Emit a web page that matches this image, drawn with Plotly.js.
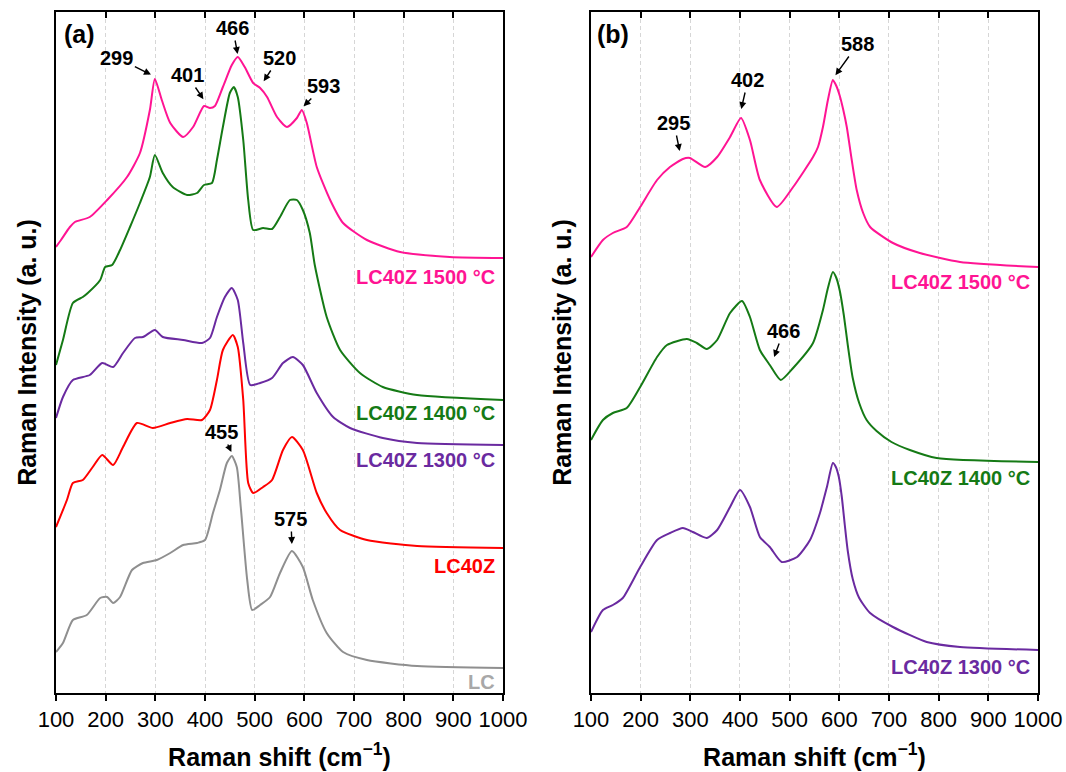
<!DOCTYPE html>
<html>
<head>
<meta charset="utf-8">
<script src="https://cdn.plot.ly/plotly-3.0.1.min.js"></script>
<style>html,body{margin:0;padding:0;background:#fff;}#chart{width:1066px;height:772px;}</style>
</head>
<body>
<div id="chart"></div>
<script>
// ---- Panel (a) spectra (Raman shift cm-1, intensity a.u. with vertical offsets) ----
const a1500_x = [100,110,128,138,168,203,243,269,289,299,313,330,356,376,398,410,420,436,454,466,480,497,511,525,545,565,585,595,605,625,652,678,726,793,893,1000];
const a1500_y = [446,453,466,471,476,493,516,540,583,614,593,570,556,566,587,585,587,606,628,636,626,610,605,596,576,566,575,583,570,526,493,470,453,441,436,435];

const a1400_x = [100,114,134,154,164,189,199,213,229,249,269,289,299,315,335,364,384,398,414,424,436,450,458,466,477,487,497,517,535,551,571,585,597,611,621,645,672,712,758,827,1000];
const a1400_y = [328,353,390,396,400,413,426,428,443,466,490,516,538,520,506,498,500,508,510,533,566,600,606,596,553,493,463,465,464,476,493,493,483,460,428,376,343,320,306,298,293];

const a1300_x = [100,114,134,168,193,215,235,259,275,299,315,356,394,410,424,440,454,466,477,491,511,535,557,577,597,625,658,692,758,827,1000];
const a1300_y = [275,296,313,318,330,326,340,355,356,363,356,353,350,355,376,396,405,393,350,308,310,315,330,336,328,300,276,265,255,250,248];

const aLC40Z_x = [100,122,134,154,174,193,215,235,263,295,330,364,394,410,424,436,456,466,477,487,497,517,535,557,575,597,625,645,672,726,827,1000];
const aLC40Z_y = [166,193,210,213,226,238,228,246,270,265,270,274,273,283,313,343,358,346,293,210,200,206,213,243,256,243,200,180,163,153,147,145];

const aLC_x = [100,114,134,162,189,203,215,229,253,275,303,330,356,384,400,416,430,444,454,464,472,485,495,511,531,551,575,597,617,645,678,726,827,1000];
const aLC_y = [41,50,73,78,95,96,90,96,123,130,133,140,148,150,153,180,203,230,237,226,186,113,83,88,96,120,142,126,93,60,41,33,27,25];

// ---- Panel (b) spectra ----
const b1500_x = [100,124,144,172,199,233,259,285,299,330,354,380,402,420,440,474,507,547,557,567,577,587,594,601,608,615,625,635,648,662,708,762,843,1000];
const b1500_y = [436,453,460,466,486,513,526,534,535,526,536,556,575,553,513,486,506,536,546,566,593,613,607,597,583,566,533,503,480,466,450,440,431,426];

const b1400_x = [100,124,144,172,199,233,253,293,313,333,354,380,404,420,440,460,482,507,547,567,577,587,594,601,609,617,627,640,655,675,705,742,796,1000];
const b1400_y = [253,273,280,285,306,336,348,354,350,344,353,380,392,376,343,328,313,325,350,383,405,421,415,402,378,348,315,290,273,262,251,243,235,231];

const b1300_x = [100,124,144,164,199,233,259,285,305,333,354,380,400,420,440,460,484,515,541,561,575,587,593,599,605,611,617,627,640,662,708,776,843,1000];
const b1300_y = [61,83,88,95,126,153,160,165,161,155,163,186,203,186,156,146,131,136,153,180,206,230,226,216,196,168,142,114,95,80,66,51,46,43];

// ---- Peak labels (text, arrow-head position) ----
const peakA_text = ["299","401","466","520","593","455","575"];
const peakA_x    = [293,398,466,517,597,454,575];
const peakA_y    = [618,593,638,611,586,240,148];
const peakA_ax   = [-35,-17,-5,16,21,-10,-1];
const peakA_ay   = [-17,-25,-27,-24,-21,-21,-26];

const peakB_text = ["295","402","588","466"];
const peakB_x    = [279,402,591,468];
const peakB_y    = [541,583,617,335];
const peakB_ax   = [-6,7,23,10];
const peakB_ay   = [-29,-30,-32,-27];

// ---- Curve labels ----
const labA_text = ["LC40Z 1500 °C","LC40Z 1400 °C","LC40Z 1300 °C","LC40Z","LC"];
const labA_y    = [416,280,233,127,11];
const labA_col  = ["#ff1493","#157a15","#6a2aa0","#ff0000","#a8a8a8"];
const labB_text = ["LC40Z 1500 °C","LC40Z 1400 °C","LC40Z 1300 °C"];
const labB_y    = [411,215,26];
const labB_col  = ["#ff1493","#157a15","#6a2aa0"];

const FONT = "Liberation Sans, Arial, Helvetica, sans-serif";
const LW = 2;

function tr(x, y, color, xa, ya, name){
  return {x:x, y:y, type:'scatter', mode:'lines', name:name,
          line:{color:color, width:LW, shape:'spline', smoothing:0.6},
          xaxis:xa, yaxis:ya, hoverinfo:'skip', showlegend:false};
}

const data = [
  tr(aLC_x, aLC_y, "#8f8f8f", 'x', 'y', 'LC'),
  tr(aLC40Z_x, aLC40Z_y, "#ff0000", 'x', 'y', 'LC40Z'),
  tr(a1300_x, a1300_y, "#6a2aa0", 'x', 'y', 'LC40Z 1300 °C'),
  tr(a1400_x, a1400_y, "#157a15", 'x', 'y', 'LC40Z 1400 °C'),
  tr(a1500_x, a1500_y, "#ff1493", 'x', 'y', 'LC40Z 1500 °C'),
  tr(b1300_x, b1300_y, "#6a2aa0", 'x2', 'y2', 'LC40Z 1300 °C'),
  tr(b1400_x, b1400_y, "#157a15", 'x2', 'y2', 'LC40Z 1400 °C'),
  tr(b1500_x, b1500_y, "#ff1493", 'x2', 'y2', 'LC40Z 1500 °C'),
  // helper traces so the top (inward) tick axes are drawn
  {x:[100,1000], y:[0,0], type:'scatter', mode:'lines', line:{width:0}, opacity:0, xaxis:'x3', yaxis:'y', hoverinfo:'skip', showlegend:false},
  {x:[100,1000], y:[0,0], type:'scatter', mode:'lines', line:{width:0}, opacity:0, xaxis:'x4', yaxis:'y2', hoverinfo:'skip', showlegend:false}
];

const ann = [];
function peak(texts, xs, ys, axs, ays, xr, yr){
  for(let i=0;i<texts.length;i++){
    ann.push({text:'<b>'+texts[i]+'</b>', x:xs[i], y:ys[i], xref:xr, yref:yr,
      ax:axs[i], ay:ays[i], showarrow:true, arrowhead:2, arrowsize:1, arrowwidth:1.4,
      arrowcolor:'#000', standoff:1, startstandoff:0,
      font:{family:FONT, size:20, color:'#000'}});
  }
}
peak(peakA_text, peakA_x, peakA_y, peakA_ax, peakA_ay, 'x', 'y');
peak(peakB_text, peakB_x, peakB_y, peakB_ax, peakB_ay, 'x2', 'y2');
function labs(texts, ys, cols, xr, yr){
  for(let i=0;i<texts.length;i++){
    ann.push({text:'<b>'+texts[i]+'</b>', x:988, y:ys[i], xref:xr, yref:yr,
      xanchor:'right', yanchor:'middle', showarrow:false,
      font:{family:FONT, size:20, color:cols[i]}});
  }
}
labs(labA_text, labA_y, labA_col, 'x', 'y');
labs(labB_text, labB_y, labB_col, 'x2', 'y2');
ann.push({text:'<b>(a)</b>', xref:'x domain', yref:'y domain', x:0.013, y:0.968, xanchor:'left', yanchor:'middle', showarrow:false, font:{family:FONT, size:25, color:'#000'}});
ann.push({text:'<b>(b)</b>', xref:'x2 domain', yref:'y2 domain', x:0.008, y:0.968, xanchor:'left', yanchor:'middle', showarrow:false, font:{family:FONT, size:25, color:'#000'}});

function xax(domain, anchor){
  return {domain:domain, anchor:anchor, range:[100,1000], tick0:100, dtick:100,
    ticks:'outside', ticklen:6, tickwidth:2, tickcolor:'#000',
    showline:true, linecolor:'#000', linewidth:2, mirror:true,
    showgrid:true, gridcolor:'#d6d6d6', gridwidth:1, griddash:'4px,3px',
    zeroline:false,
    tickfont:{family:FONT, size:22, color:'#000'},
    title:{text:'<b>Raman shift (cm<sup>−1</sup>)</b>', font:{family:FONT, size:25, color:'#000'}, standoff:17}};
}
function topax(over, anchor){
  return {overlaying:over, matches:over, anchor:anchor, side:'top', range:[100,1000], tick0:100, dtick:100,
    ticks:'inside', ticklen:6, tickwidth:2, tickcolor:'#000', showticklabels:false,
    showline:false, showgrid:false, zeroline:false};
}
function yax(domain, anchor){
  return {domain:domain, anchor:anchor, range:[0,681], showticklabels:false, ticks:'',
    showline:true, linecolor:'#000', linewidth:2, mirror:true, showgrid:false, zeroline:false,
    title:{text:'<b>Raman Intensity (a. u.)</b>', font:{family:FONT, size:25, color:'#000'}, standoff:10}};
}

const layout = {
  width:1066, height:772,
  margin:{l:56, r:28, t:12, b:79},
  paper_bgcolor:'#fff', plot_bgcolor:'#fff',
  showlegend:false,
  xaxis: xax([0,0.4552],'y'),
  xaxis2: xax([0.5448,1],'y2'),
  xaxis3: topax('x','y'),
  xaxis4: topax('x2','y2'),
  yaxis: yax([0,1],'x'),
  yaxis2: yax([0,1],'x2'),
  annotations: ann
};

Plotly.newPlot('chart', data, layout, {staticPlot:true, displayModeBar:false});
</script>
</body>
</html>
